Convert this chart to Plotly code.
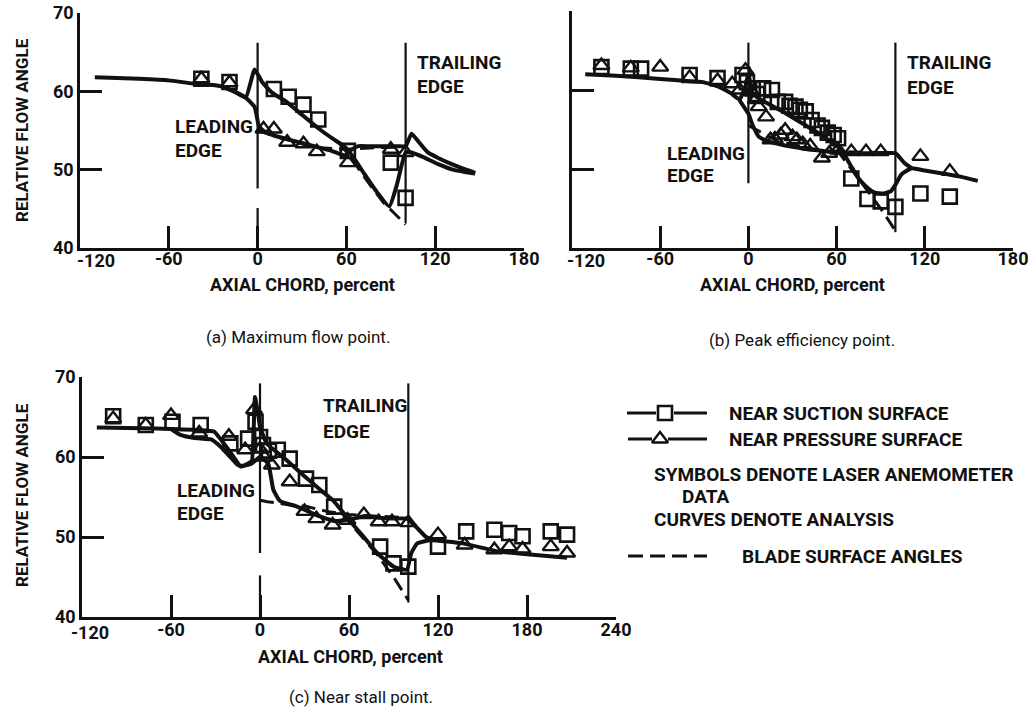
import plotly.graph_objects as go

W, H = 1033, 712
FONT = "Roboto, Liberation Sans, sans-serif"

def PX(x):
    return x / W

def PY(y):
    return 1 - y / H

# ---------------- DATA ----------------
# x ticks (the -120 label is drawn separately, offset like the original lettering)
xt_ab = [-120, -60, 0, 60, 120, 180]
xt_ab_txt = ["", "-60", "0", "60", "120", "180"]
xt_c = [-120, -60, 0, 60, 120, 180, 240]
xt_c_txt = ["", "-60", "0", "60", "120", "180", "240"]
x_first_label = "-120"
yt = [40, 50, 60, 70]
yt_txt = ["40", "50", "60", "70"]

# Panel (a) maximum flow point
a_sq_x = [-38, -19, 11, 21, 31, 41, 61, 90, 100]
a_sq_y = [61.6, 61.2, 60.3, 59.3, 58.3, 56.4, 52.4, 50.9, 46.4]
a_tr_x = [-38, -19, 4, 11, 20, 31, 40, 61, 90, 100]
a_tr_y = [61.6, 61.1, 55.2, 55.2, 53.5, 53.3, 52.3, 50.9, 52.6, 52.2]
a_suc_x = [-110, -80, -60, -44, -30, -24, -16, -8, -2, 3, 10, 20, 30, 43, 52, 59, 65, 72, 80, 89, 94, 100, 104, 112, 122, 132, 140, 147]
a_suc_y = [61.8, 61.6, 61.4, 61.0, 60.8, 60.6, 60.0, 59.2, 62.8, 61.2, 59.8, 58.6, 57.0, 55.0, 53.8, 52.9, 51.5, 49.5, 47.3, 45.3, 48.0, 52.2, 52.2, 51.6, 50.7, 50.0, 49.7, 49.5]
a_pre_x = [-24, -16, -8, -2, 1, 5, 12, 20, 30, 40, 50, 59, 63, 68, 75, 85, 95, 100, 104, 109, 115, 122, 130, 138, 147]
a_pre_y = [60.6, 60.0, 59.2, 58.0, 55.5, 54.8, 54.3, 53.9, 53.4, 52.9, 52.4, 51.8, 52.5, 53.0, 53.0, 53.0, 53.0, 53.0, 54.6, 53.5, 52.2, 51.5, 50.8, 50.2, 49.6]
a_bs_x = [55, 65, 75, 85, 92, 100]
a_bs_y = [53.5, 51.0, 48.3, 45.8, 44.5, 43.0]
a_bp_x = [0, 20, 40, 60, 80, 100]
a_bp_y = [55.0, 53.8, 52.8, 52.6, 52.8, 52.9]

# Panel (b) peak efficiency point
b_sq_x = [-100, -80, -73, -40, -21, -4, -1, 3, 6, 10, 16, 20, 25, 28, 32, 35, 39, 43, 47, 50, 54, 58, 61, 70, 81, 90, 100, 117, 137]
b_sq_y = [62.9, 62.7, 62.7, 61.9, 61.5, 61.9, 61.0, 60.2, 59.5, 60.2, 60.0, 58.5, 58.5, 58.0, 57.9, 57.5, 57.3, 56.2, 55.5, 55.2, 54.6, 54.3, 53.9, 48.8, 46.2, 45.9, 45.2, 46.9, 46.5]
b_tr_x = [-100, -80, -60, -40, -21, -11, -6, -2, 2, 5, 7, 12, 15, 18, 22, 25, 30, 33, 37, 42, 50, 55, 61, 70, 80, 90, 117, 137]
b_tr_y = [63.1, 62.8, 62.9, 61.6, 61.2, 60.8, 60.0, 62.5, 59.8, 58.8, 57.9, 56.6, 53.7, 53.8, 54.3, 54.9, 54.1, 53.7, 53.2, 52.9, 51.4, 52.0, 52.4, 52.2, 52.2, 52.2, 51.6, 49.7]
b_suc_x = [-111, -90, -60, -40, -31, -20, -12, -6, -2, 0, 3, 10, 25, 40, 48, 55, 61, 66, 70, 75, 80, 86, 92, 97, 100, 104, 111, 120, 130, 145, 156]
b_suc_y = [62.0, 61.8, 61.4, 61.1, 61.0, 60.4, 59.6, 58.8, 60.5, 62.0, 59.5, 58.6, 57.1, 55.4, 54.5, 53.6, 52.8, 51.6, 50.3, 48.8, 47.8, 47.0, 46.9, 47.2, 48.0, 49.3, 50.1, 49.8, 49.5, 49.0, 48.5]
b_pre_x = [-6, 0, 3, 7, 12, 20, 30, 40, 50, 60, 70, 80, 90, 100, 106, 111]
b_pre_y = [58.7, 57.0, 55.5, 54.1, 53.6, 53.2, 52.8, 52.5, 52.3, 52.1, 52.0, 52.0, 52.0, 52.0, 50.8, 50.1]
b_bs_x = [60, 70, 80, 90, 100]
b_bs_y = [52.5, 50.0, 47.5, 45.0, 42.2]
b_bp_x = [0, 20, 50, 100]
b_bp_y = [55.5, 53.5, 52.3, 52.0]

# Panel (c) near stall point
c_sq_x = [-99, -77, -59, -40, -20, -8, -3, 0, 2, 6, 12, 20, 31, 40, 50, 81, 90, 100, 120, 139, 158, 168, 177, 196, 207]
c_sq_y = [65.1, 64.0, 64.4, 64.0, 61.7, 62.3, 64.4, 62.5, 61.5, 60.8, 60.9, 59.8, 57.3, 56.5, 53.8, 48.8, 46.7, 46.3, 48.8, 50.7, 50.9, 50.5, 50.1, 50.7, 50.3]
c_tr_x = [-99, -77, -60, -41, -21, -10, -4, 0, 3, 8, 20, 30, 38, 49, 59, 70, 80, 89, 100, 120, 138, 158, 168, 177, 196, 207]
c_tr_y = [64.8, 64.0, 65.2, 63.0, 62.6, 60.9, 65.9, 61.0, 60.0, 59.0, 56.9, 53.2, 52.3, 51.5, 52.1, 52.8, 51.9, 51.9, 51.8, 50.3, 49.0, 48.4, 48.8, 48.5, 48.8, 48.0]
c_suc_x = [-110, -80, -60, -45, -36, -31, -26, -22, -17, -13, -8, -5.5, -3.4, -1, 0, 4.5, 18, 30, 40, 49, 55, 61, 70, 79, 90, 99, 102, 106, 115, 137, 160, 182, 207]
c_suc_y = [63.7, 63.6, 63.5, 63.4, 63.3, 63.2, 62.1, 61.1, 59.8, 58.8, 59.2, 59.5, 67.5, 65.0, 63.8, 61.7, 59.6, 57.6, 56.0, 54.6, 53.3, 51.9, 50.0, 48.0, 46.3, 45.9, 48.0, 49.2, 49.6, 49.2, 48.2, 47.8, 47.4]
c_pre_x = [-60, -54, -45, -40, -33, -26, -20, -15, -11, -5.5, 0, 5.5, 9, 13.5, 25, 40, 50, 61, 70, 80, 90, 99, 104, 112, 118]
c_pre_y = [63.5, 62.8, 62.4, 62.3, 62.2, 61.2, 60.0, 59.0, 58.9, 59.2, 60.0, 59.2, 55.9, 54.5, 53.8, 52.6, 52.0, 52.2, 52.6, 52.4, 52.3, 52.3, 51.5, 50.0, 49.6]
c_bs_x = [55, 65, 79, 90, 100]
c_bs_y = [53.0, 50.8, 47.8, 45.0, 42.1]
c_bp_x = [0, 5, 13.5, 20, 31.5, 45, 60, 80, 100]
c_bp_y = [54.6, 54.4, 54.2, 54.0, 53.8, 53.2, 52.8, 52.6, 52.4]

# ---------------- FIGURE ----------------
fig = go.Figure()

panels = [
    ("x", "y", a_sq_x, a_sq_y, a_tr_x, a_tr_y, a_suc_x, a_suc_y, a_pre_x, a_pre_y, a_bs_x, a_bs_y, a_bp_x, a_bp_y),
    ("x2", "y2", b_sq_x, b_sq_y, b_tr_x, b_tr_y, b_suc_x, b_suc_y, b_pre_x, b_pre_y, b_bs_x, b_bs_y, b_bp_x, b_bp_y),
    ("x3", "y3", c_sq_x, c_sq_y, c_tr_x, c_tr_y, c_suc_x, c_suc_y, c_pre_x, c_pre_y, c_bs_x, c_bs_y, c_bp_x, c_bp_y),
]

INK = "#111111"
for (xa, ya, sqx, sqy, trx, try_, sux, suy, prx, pry, bsx, bsy, bpx, bpy) in panels:
    for bx, by in ((bsx, bsy), (bpx, bpy)):
        fig.add_trace(go.Scatter(x=bx, y=by, xaxis=xa, yaxis=ya, mode="lines",
                                 line=dict(color=INK, width=3, dash="14px,7px"),
                                 showlegend=False, hoverinfo="skip"))
    for cx, cy in ((sux, suy), (prx, pry)):
        fig.add_trace(go.Scatter(x=cx, y=cy, xaxis=xa, yaxis=ya, mode="lines",
                                 line=dict(color=INK, width=4, shape="spline", smoothing=0.4),
                                 showlegend=False, hoverinfo="skip"))
    fig.add_trace(go.Scatter(x=sqx, y=sqy, xaxis=xa, yaxis=ya, mode="markers",
                             marker=dict(symbol="square-open", size=14, color=INK,
                                         line=dict(width=2.6, color=INK)),
                             showlegend=False))
    fig.add_trace(go.Scatter(x=trx, y=try_, xaxis=xa, yaxis=ya, mode="markers",
                             marker=dict(symbol="triangle-up-open", size=14, color=INK,
                                         line=dict(width=2.4, color=INK)),
                             showlegend=False))

# legend glyph markers on an overlay pixel axis
fig.add_trace(go.Scatter(x=[665], y=[413], xaxis="x4", yaxis="y4", mode="markers",
                         marker=dict(symbol="square", size=14, color="white",
                                     line=dict(width=2.6, color=INK)),
                         showlegend=False, hoverinfo="skip"))
fig.add_trace(go.Scatter(x=[660], y=[439], xaxis="x4", yaxis="y4", mode="markers",
                         marker=dict(symbol="triangle-up", size=14, color="white",
                                     line=dict(width=2.4, color=INK)),
                         showlegend=False, hoverinfo="skip"))

shapes = []
# legend lines (paper coords)
for (x0, x1, yy, dash) in [(627, 656, 413, "solid"), (674, 707, 413, "solid"),
                           (628, 652, 439, "solid"), (668, 707, 439, "solid"),
                           (628, 707, 556, "15px,7px")]:
    shapes.append(dict(type="line", xref="paper", yref="paper", x0=PX(x0), x1=PX(x1),
                       y0=PY(yy), y1=PY(yy), line=dict(color=INK, width=3, dash=dash)))

# leading / trailing edge vertical lines (data coords)
edge_lines = [
    ("x", "y", 0, 66.2, 47.6), ("x", "y", 0, 45.1, 40.0), ("x", "y", 100, 66.2, 43.2),
    ("x2", "y2", 0, 66.0, 48.2), ("x2", "y2", 100, 66.0, 42.0),
    ("x3", "y3", 0, 69.2, 48.0), ("x3", "y3", 0, 45.2, 40.0), ("x3", "y3", 100, 69.2, 41.8),
]
for xa, ya, xv, y0, y1 in edge_lines:
    shapes.append(dict(type="line", xref=xa, yref=ya, x0=xv, x1=xv, y0=y0, y1=y1,
                       line=dict(color=INK, width=2.2)))

def ax_common():
    return dict(showline=True, linewidth=2.6, linecolor=INK, ticks="inside", ticklen=22,
                tickwidth=2.6, tickcolor=INK, showgrid=False, zeroline=False, automargin=False,
                tickfont=dict(family=FONT, size=18, color=INK, weight="bold"), fixedrange=True)

layout = dict(
    width=W, height=H, margin=dict(l=0, r=0, t=0, b=0),
    paper_bgcolor="white", plot_bgcolor="rgba(0,0,0,0)", showlegend=False,
    xaxis=dict(domain=[PX(80), PX(524)], range=[-120, 180], tickvals=xt_ab, ticktext=xt_ab_txt,
               anchor="y", ticklabelstandoff=-7, **ax_common()),
    yaxis=dict(domain=[PY(248), PY(13)], range=[40, 70], tickvals=yt, ticktext=yt_txt,
               anchor="x", ticklabelstandoff=0, **ax_common()),
    xaxis2=dict(domain=[PX(572), PX(1013)], range=[-120, 180], tickvals=xt_ab, ticktext=xt_ab_txt,
                anchor="y2", ticklabelstandoff=-7, **ax_common()),
    yaxis2=dict(domain=[PY(248), PY(11)], range=[40, 70], tickvals=yt, showticklabels=False,
                anchor="x2", **ax_common()),
    xaxis3=dict(domain=[PX(82), PX(616)], range=[-120, 240], tickvals=xt_c, ticktext=xt_c_txt,
                anchor="y3", ticklabelstandoff=-5, **ax_common()),
    yaxis3=dict(domain=[PY(617), PY(377)], range=[40, 70], tickvals=yt, ticktext=yt_txt,
                anchor="x3", ticklabelstandoff=0, **ax_common()),
    xaxis4=dict(domain=[0, 1], range=[0, W], visible=False, fixedrange=True, anchor="y4", automargin=False),
    yaxis4=dict(domain=[0, 1], range=[H, 0], visible=False, fixedrange=True, anchor="x4", automargin=False),
    shapes=shapes,
)
fig.update_layout(**layout)

ann = []
def txt(x, y, s, size=19, xanchor="left", angle=0, weight="bold"):
    ann.append(dict(x=PX(x), y=PY(y), xref="paper", yref="paper", text=s, showarrow=False,
                    xanchor=xanchor, yanchor="middle", textangle=angle,
                    font=dict(family=FONT, size=size, color=INK, weight=weight)))

# first x tick labels (offset to the right of the axis corner, as lettered)
txt(96, 260, x_first_label, size=18, xanchor="center")
txt(586, 260, x_first_label, size=18, xanchor="center")
txt(90, 632, x_first_label, size=18, xanchor="center")
# panel labels
txt(173, 127, "LEADING"); txt(173, 150, "EDGE")
txt(415, 63, "TRAILING"); txt(415, 86, "EDGE")
txt(665, 153, "LEADING"); txt(665, 176, "EDGE")
txt(905, 63, "TRAILING"); txt(905, 88, "EDGE")
txt(175, 490, "LEADING"); txt(175, 513, "EDGE")
txt(321, 405, "TRAILING"); txt(321, 431, "EDGE")
# axis titles
txt(302, 284, "AXIAL CHORD, percent", size=18, xanchor="center")
txt(792, 284, "AXIAL CHORD, percent", size=18, xanchor="center")
txt(350, 656, "AXIAL CHORD, percent", size=18, xanchor="center")
txt(22, 130, "RELATIVE FLOW ANGLE", size=17, xanchor="center", angle=-90)
txt(22, 495, "RELATIVE FLOW ANGLE", size=17, xanchor="center", angle=-90)
# captions
txt(298, 337, "(a) Maximum flow point.", size=17, xanchor="center", weight="normal")
txt(802, 340, "(b) Peak efficiency point.", size=17, xanchor="center", weight="normal")
txt(361, 697, "(c) Near stall point.", size=17, xanchor="center", weight="normal")
# legend texts
txt(727, 413, "NEAR SUCTION SURFACE")
txt(727, 439, "NEAR PRESSURE SURFACE")
txt(652, 474, "SYMBOLS DENOTE LASER ANEMOMETER")
txt(680, 497, "DATA")
txt(652, 519, "CURVES DENOTE ANALYSIS")
txt(740, 556, "BLADE SURFACE ANGLES")

fig.update_layout(annotations=ann)
fig.write_html("out.html")
